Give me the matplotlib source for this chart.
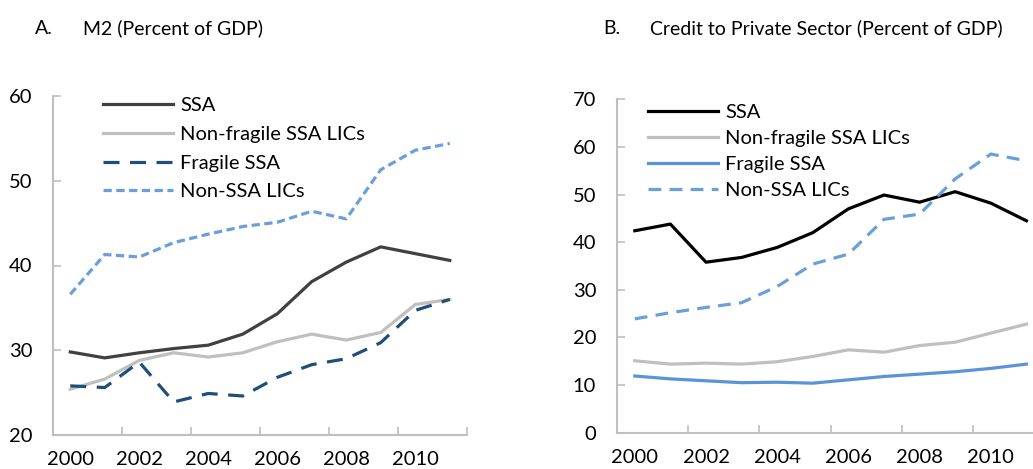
import matplotlib
matplotlib.use("Agg")
import matplotlib.pyplot as plt
import numpy as np

plt.rcParams['font.family'] = ['Lato', 'DejaVu Sans']

years = [str(y) for y in range(2000, 2012)]
tick_labels = ['2000', '', '2002', '', '2004', '', '2006', '', '2008', '', '2010', '']

m2_ssa = [29.8, 29.1, 29.7, 30.2, 30.6, 31.9, 34.3, 38.1, 40.4, 42.2, 41.4, 40.6]
m2_nonfragile = [25.4, 26.6, 28.8, 29.7, 29.2, 29.7, 31.0, 31.9, 31.2, 32.1, 35.4, 36.0]
m2_fragile = [25.8, 25.6, 28.6, 23.9, 24.9, 24.6, 26.8, 28.3, 29.0, 30.9, 34.7, 36.0]
m2_nonssa = [36.6, 41.3, 41.0, 42.7, 43.7, 44.6, 45.1, 46.4, 45.5, 51.3, 53.6, 54.4]

cr_ssa = [42.4, 43.8, 35.8, 36.8, 38.9, 42.0, 47.0, 49.9, 48.4, 50.6, 48.2, 44.5]
cr_nonfragile = [15.1, 14.4, 14.6, 14.4, 14.9, 16.0, 17.4, 16.9, 18.3, 19.0, 20.9, 22.8]
cr_fragile = [11.9, 11.3, 10.9, 10.5, 10.6, 10.4, 11.1, 11.8, 12.3, 12.8, 13.5, 14.4]
cr_nonssa = [23.9, 25.2, 26.3, 27.3, 30.7, 35.4, 37.5, 44.8, 45.9, 53.3, 58.5, 57.1]

labels = ['SSA', 'Non-fragile SSA LICs', 'Fragile SSA', 'Non-SSA LICs']

W, H = 1033, 469
fig = plt.figure(figsize=(W / 100, H / 100), dpi=100)

def px_axes(left, top, right, bottom):
    return fig.add_axes([left / W, 1 - bottom / H, (right - left) / W, (bottom - top) / H])

axA = px_axes(53, 96, 467, 435)
axB = px_axes(617, 99.3, 617 + 12 * 35.6, 432.7)

spine_col = '#BFBFBF'
FS = 14.5

def style(ax, ylim, yticks):
    x = np.arange(len(years))
    ax.set_xlim(-0.5, len(years) - 0.5)
    ax.set_ylim(*ylim)
    ax.set_yticks(yticks)
    ax.set_xticks(x)
    ax.set_xticklabels(tick_labels)
    ax.tick_params(axis='x', length=0, labelsize=FS, pad=11.5)
    ax.set_xticks(np.arange(1.5, len(years), 2), minor=True)
    ax.tick_params(axis='x', which='minor', direction='in', length=6, color=spine_col, width=1.2)
    ax.tick_params(axis='y', direction='in', length=6, color=spine_col, width=1.2, labelsize=FS, pad=15)
    for s in ['top', 'right']:
        ax.spines[s].set_visible(False)
    for s in ['left', 'bottom']:
        ax.spines[s].set_color(spine_col)
        ax.spines[s].set_linewidth(1.5)

x = np.arange(len(years))
lw = 2.3
# Panel A
axA.plot(x, m2_ssa, color='#404040', lw=lw, label=labels[0])
axA.plot(x, m2_nonfragile, color='#BFBFBF', lw=lw, label=labels[1])
axA.plot(x, m2_fragile, color='#1F4E79', lw=lw, dashes=(5, 3.3), label=labels[2])
axA.plot(x, m2_nonssa, color='#6A9FDC', lw=lw, dashes=(2.6, 1.4), label=labels[3])
style(axA, (20, 60), [20, 30, 40, 50, 60])
axA.legend(loc='upper left', bbox_to_anchor=(50 / 414, 0.996), frameon=False, fontsize=FS,
           handlelength=3.48, handletextpad=0.35, labelspacing=0.57, borderpad=0, borderaxespad=0)

# Panel B
axB.plot(x, cr_ssa, color='#000000', lw=lw, label=labels[0])
axB.plot(x, cr_nonfragile, color='#BFBFBF', lw=lw, label=labels[1])
axB.plot(x, cr_fragile, color='#5B93D8', lw=lw, label=labels[2])
axB.plot(x, cr_nonssa, color='#6A9FDC', lw=lw, dashes=(4, 2.6), label=labels[3])
style(axB, (0, 70), [0, 10, 20, 30, 40, 50, 60, 70])
axB.legend(loc='upper left', bbox_to_anchor=(31 / 427, 0.986), frameon=False, fontsize=FS,
           handlelength=3.48, handletextpad=0.35, labelspacing=0.44, borderpad=0, borderaxespad=0)

TFS = 14
fig.text(35 / W, 1 - 28 / H, 'A.', fontsize=TFS, va='center', ha='left')
fig.text(83 / W, 1 - 28 / H, 'M2 (Percent of GDP)', fontsize=TFS, va='center', ha='left')
fig.text(603 / W, 1 - 28 / H, 'B.', fontsize=TFS, va='center', ha='left')
fig.text(650 / W, 1 - 28 / H, 'Credit to Private Sector (Percent of GDP)', fontsize=TFS, va='center', ha='left')

fig.savefig('out.png', dpi=100)
